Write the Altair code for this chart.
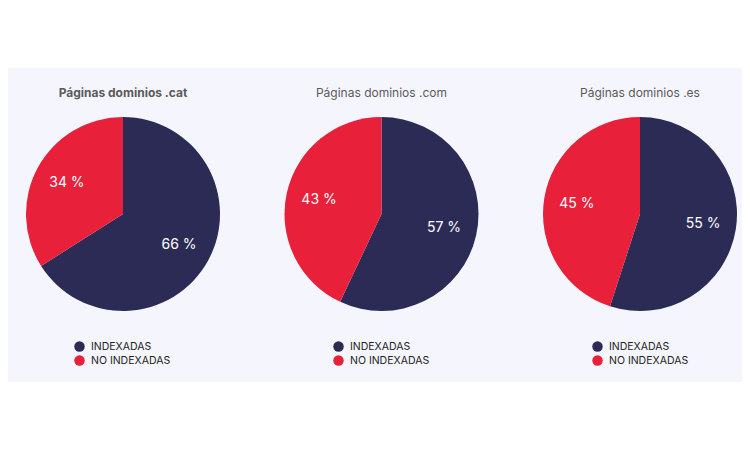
import altair as alt
import pandas as pd

# ---- data ----
dominios = [".cat", ".com", ".es"]
titulos = ["Páginas dominios .cat", "Páginas dominios .com", "Páginas dominios .es"]
categorias = ["INDEXADAS", "NO INDEXADAS"]
indexadas = [66, 57, 55]
no_indexadas = [34, 43, 45]

rows = []
for d, a, b in zip(dominios, indexadas, no_indexadas):
    rows.append({"dominio": d, "categoria": categorias[0], "valor": a, "orden": 0, "etiqueta": f"{a} %"})
    rows.append({"dominio": d, "categoria": categorias[1], "valor": b, "orden": 1, "etiqueta": f"{b} %"})
df = pd.DataFrame(rows)
df_tit = pd.DataFrame({"dominio": dominios, "titulo": titulos})

NAVY = "#2c2b56"
RED = "#e8203a"
FONT = "Inter"

x_enc = alt.X("dominio:N",
              scale=alt.Scale(type="point", domain=dominios, range=[115, 632], padding=0),
              axis=None)
legend_x = [66, 325, 584]
pesos = ["bold", "normal", "normal"]

layers = []
for i, d in enumerate(dominios):
    base = alt.Chart(df).transform_filter(alt.datum.dominio == d)
    arc = base.mark_arc(outerRadius=97).encode(
        x=x_enc,
        y=alt.value(146),
        theta=alt.Theta("valor:Q", stack=True),
        color=alt.Color("categoria:N",
                        scale=alt.Scale(domain=categorias, range=[NAVY, RED]),
                        legend=alt.Legend(orient="none", legendX=legend_x[i], legendY=273,
                                          title=None, symbolType="circle", symbolSize=110,
                                          symbolStrokeWidth=0, labelFont=FONT, labelFontSize=10.5,
                                          labelColor="#222222", labelOffset=6, rowPadding=3)),
        order=alt.Order("orden:Q"),
    )
    txt = base.mark_text(radius=64, font=FONT, fontSize=14, color="white").encode(
        x=x_enc,
        y=alt.value(146),
        theta=alt.Theta("valor:Q", stack=True),
        detail="categoria:N",
        order=alt.Order("orden:Q"),
        text="etiqueta:N",
    )
    tit = alt.Chart(df_tit).transform_filter(alt.datum.dominio == d).mark_text(
        font=FONT, fontSize=12, fontWeight=pesos[i], color="#5a5a5a"
    ).encode(x=x_enc, y=alt.value(25), text="titulo:N")
    layers.append(alt.layer(arc, txt, tit))

chart = alt.layer(*layers).resolve_scale(color="independent").resolve_legend(
    color="independent"
).properties(
    width=734, height=314,
    padding={"top": 60, "left": 0, "right": 0, "bottom": 0},
    autosize=alt.AutoSizeParams(type="none"),
    background="white",
).configure_view(fill="#f5f6fd", strokeWidth=0)

chart.save("out.html", embed_options={"renderer": "svg", "actions": False})
